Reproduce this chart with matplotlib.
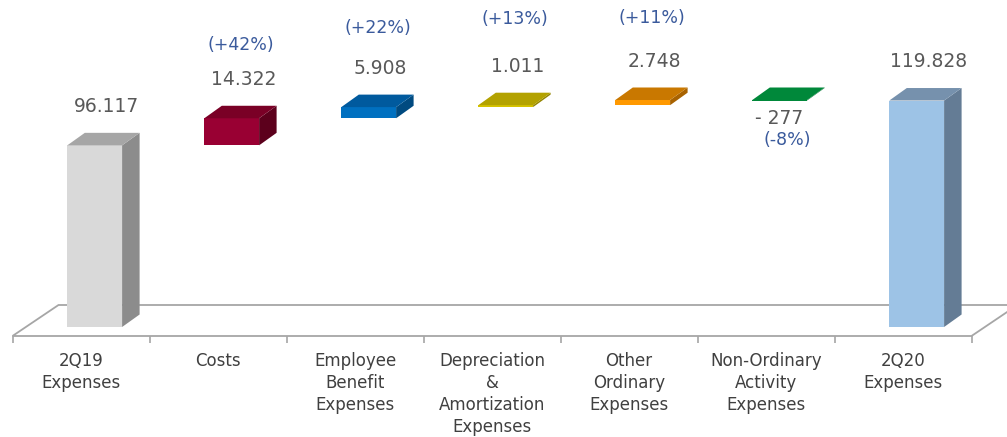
import matplotlib.pyplot as plt
from matplotlib.patches import Polygon

# waterfall data (values shown with '.' as thousands separator)
categories = ['2Q19\nExpenses', 'Costs', 'Employee\nBenefit\nExpenses',
              'Depreciation\n&\nAmortization\nExpenses', 'Other\nOrdinary\nExpenses',
              'Non-Ordinary\nActivity\nExpenses', '2Q20\nExpenses']
values = [96117, 14322, 5908, 1011, 2748, -277, 119828]
is_total = [True, False, False, False, False, False, True]
pct_labels = [None, '(+42%)', '(+22%)', '(+13%)', '(+11%)', '(-8%)', None]

front_cols = ['#d9d9d9', '#990033', '#0070c0', '#d6c300', '#ff9900', '#00883a', '#9dc3e6']
top_cols = ['#a6a6a6', '#7a0026', '#005a9e', '#b3a200', '#c97800', '#00883a', '#7691ad']
side_cols = ['#8c8c8c', '#5c001c', '#004a80', '#948500', '#a86200', '#006b2d', '#647c95']
pct_gap = [0, 25, 29, 34, 31, 0, 0]  # points between value and pct label

def fmt(v):
    s = f"{abs(v):,}".replace(',', '.')
    return s if v >= 0 else '- ' + s

fig = plt.figure(figsize=(10.07, 4.37), dpi=100)
ax = fig.add_axes([0, 0, 1, 1])
px_per_k = 1.89
ax.set_xlim(-81 / 137, (1007 - 81) / 137)
ax.set_ylim(-110 / px_per_k * 1000, 327 / px_per_k * 1000)
ax.axis('off')

# depth offsets of the pseudo-3d boxes
dx, dy = 17.5 / 137, 12.5 / px_per_k * 1000
fdx, fdy = 46 / 137, 31 / px_per_k * 1000
floor_y = -9 / px_per_k * 1000
n = len(values)

# floor
floor = Polygon([(-0.5, floor_y), (n - 0.5, floor_y), (n - 0.5 + fdx, floor_y + fdy),
                 (-0.5 + fdx, floor_y + fdy)], closed=True, facecolor='white',
                edgecolor='#a6a6a6', lw=1.3, zorder=1)
ax.add_patch(floor)
ax.vlines([i - 0.5 for i in range(n + 1)], floor_y - 6.5 / px_per_k * 1000, floor_y,
          color='#a6a6a6', lw=1.2, zorder=1)

w = 0.40
run = 0
for i, v in enumerate(values):
    if is_total[i]:
        lo, hi = 0, v
        run = v
    else:
        lo, hi = sorted([run, run + v])
        run += v
    x0 = i + 0.1 - w / 2
    x1 = x0 + w
    ax.add_patch(Polygon([(x0, lo), (x1, lo), (x1, hi), (x0, hi)],
                         facecolor=front_cols[i], edgecolor='none', zorder=3))
    ax.add_patch(Polygon([(x1, lo), (x1 + dx, lo + dy), (x1 + dx, hi + dy), (x1, hi)],
                         facecolor=side_cols[i], edgecolor='none', zorder=3))
    ax.add_patch(Polygon([(x0, hi), (x1, hi), (x1 + dx, hi + dy), (x0 + dx, hi + dy)],
                         facecolor=top_cols[i], edgecolor='none', zorder=3))

    cx = i + 0.1 + 12 / 137
    if v >= 0:
        ax.annotate(fmt(v), (cx, hi), xytext=(0, 28), textcoords='offset points',
                    ha='center', va='center', fontsize=13.5, color='#595959')
        if pct_labels[i]:
            ax.annotate(pct_labels[i], (cx, hi), xytext=(-2, 28 + pct_gap[i]),
                        textcoords='offset points', ha='center', va='center',
                        fontsize=12.5, color='#3a5a9c')
    else:
        ax.annotate(fmt(v), (cx, hi), xytext=(-9, -13), textcoords='offset points',
                    ha='center', va='center', fontsize=13.5, color='#595959')
        ax.annotate(pct_labels[i], (cx, hi), xytext=(-3, -29), textcoords='offset points',
                    ha='center', va='center', fontsize=12.5, color='#3a5a9c')

for i, c in enumerate(categories):
    ax.text(i, floor_y - 16 / px_per_k * 1000, c, ha='center', va='top',
            fontsize=12, color='#404040', linespacing=1.28)

fig.savefig('out.png', dpi=100)
